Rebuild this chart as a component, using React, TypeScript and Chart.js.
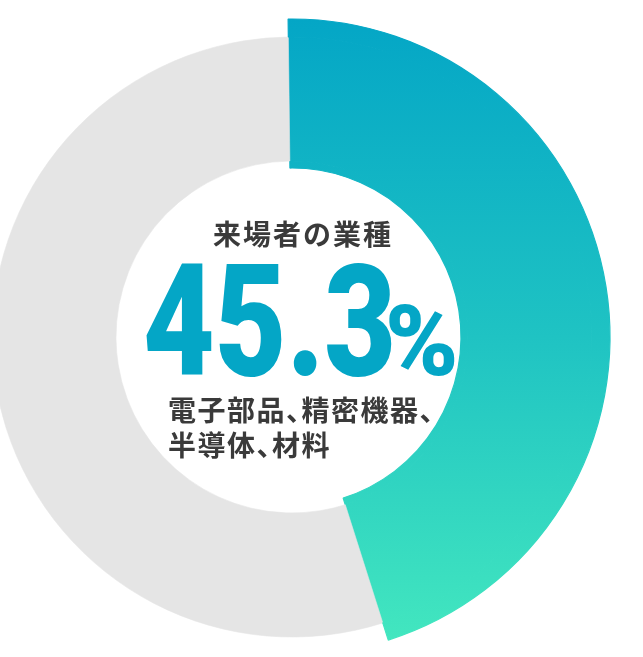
import React, { useEffect, useRef } from "react";
import { Chart, registerables } from "chart.js";

Chart.register(...registerables);

const categories = ["電子部品、精密機器、半導体、材料", "その他"];
const shares = [45.3, 54.7];
const titleText = "来場者の業種";
const valueText = "45.3";
const unitText = "%";
const subLines = ["電子部品、精密機器、", "半導体、材料"];

const TEAL_TOP = "#04a6c6";
const TEAL_MID = "#1fc3c3";
const TEAL_BOTTOM = "#44e8bf";
const GREY = "#e5e5e5";
const CLEAR = "rgba(0,0,0,0)";

export default function App() {
  const ref = useRef<HTMLCanvasElement | null>(null);

  useEffect(() => {
    const canvas = ref.current;
    if (!canvas) return;
    const gradient = (ctx: any) => {
      const chart = ctx.chart;
      const area = chart.chartArea;
      if (!area) return TEAL_TOP;
      const cy = (area.top + area.bottom) / 2;
      const g = chart.ctx.createLinearGradient(0, cy - 318, 0, cy + 318);
      g.addColorStop(0, TEAL_TOP);
      g.addColorStop(0.5, TEAL_MID);
      g.addColorStop(1, TEAL_BOTTOM);
      return g;
    };
    const ring = (other: string, weight: number) => ({
      data: shares,
      backgroundColor: (c: any) => (c.dataIndex === 0 ? gradient(c) : other),
      borderColor: (c: any) => (c.dataIndex === 0 ? gradient(c) : other),
      borderWidth: (c: any) => (c.dataIndex === 0 ? 1.2 : other === CLEAR ? 0 : 0.6),
      weight,
    });
    const chart = new Chart(canvas, {
      type: "doughnut",
      data: {
        labels: categories,
        datasets: [ring(CLEAR, 18), ring(GREY, 124), ring(CLEAR, 7)],
      },
      options: {
        responsive: false,
        animation: false,
        radius: 318,
        cutout: "53.14%",
        rotation: -0.7,
        layout: { padding: { left: 0, right: 59, top: 17, bottom: 0 } },
        plugins: { legend: { display: false }, tooltip: { enabled: false } },
        events: [],
      } as any,
    });
    return () => chart.destroy();
  }, []);

  const dark = "#3a3a3a";
  const jp = '"Noto Sans CJK JP", "Noto Sans", sans-serif';
  return (
    <div style={{ position: "fixed", left: 0, top: 0, width: 643, height: 657, background: "#fff", overflow: "hidden" }}>
      <canvas ref={ref} width={643} height={657} style={{ position: "absolute", left: 0, top: 0, width: 643, height: 657 }} />
      <div style={{ position: "absolute", left: 0, width: 606, top: 219, textAlign: "center", fontFamily: jp, fontWeight: 700, fontSize: 28, lineHeight: "28px", letterSpacing: 2, color: dark, whiteSpace: "nowrap" }}>
        {titleText}
      </div>
      <div style={{ position: "absolute", left: 143, top: 245, fontFamily: "Roboto, sans-serif", fontWeight: 900, fontSize: 155, lineHeight: "155px", color: TEAL_TOP, transform: "scaleX(0.8)", transformOrigin: "0 0", whiteSpace: "nowrap" }}>
        {valueText}
      </div>
      <div style={{ position: "absolute", left: 385, top: 292, fontFamily: "Roboto, sans-serif", fontWeight: 900, fontSize: 99, lineHeight: "99px", color: TEAL_TOP, whiteSpace: "nowrap" }}>
        {unitText}
      </div>
      <div style={{ position: "absolute", left: 168, top: 392, fontFamily: jp, fontWeight: 700, fontSize: 28, lineHeight: "35px", letterSpacing: 1.5, fontFeatureSettings: '"palt"', color: dark, whiteSpace: "nowrap" }}>
        {subLines.map((l, i) => (
          <div key={i}>{l}</div>
        ))}
      </div>
    </div>
  );
}
